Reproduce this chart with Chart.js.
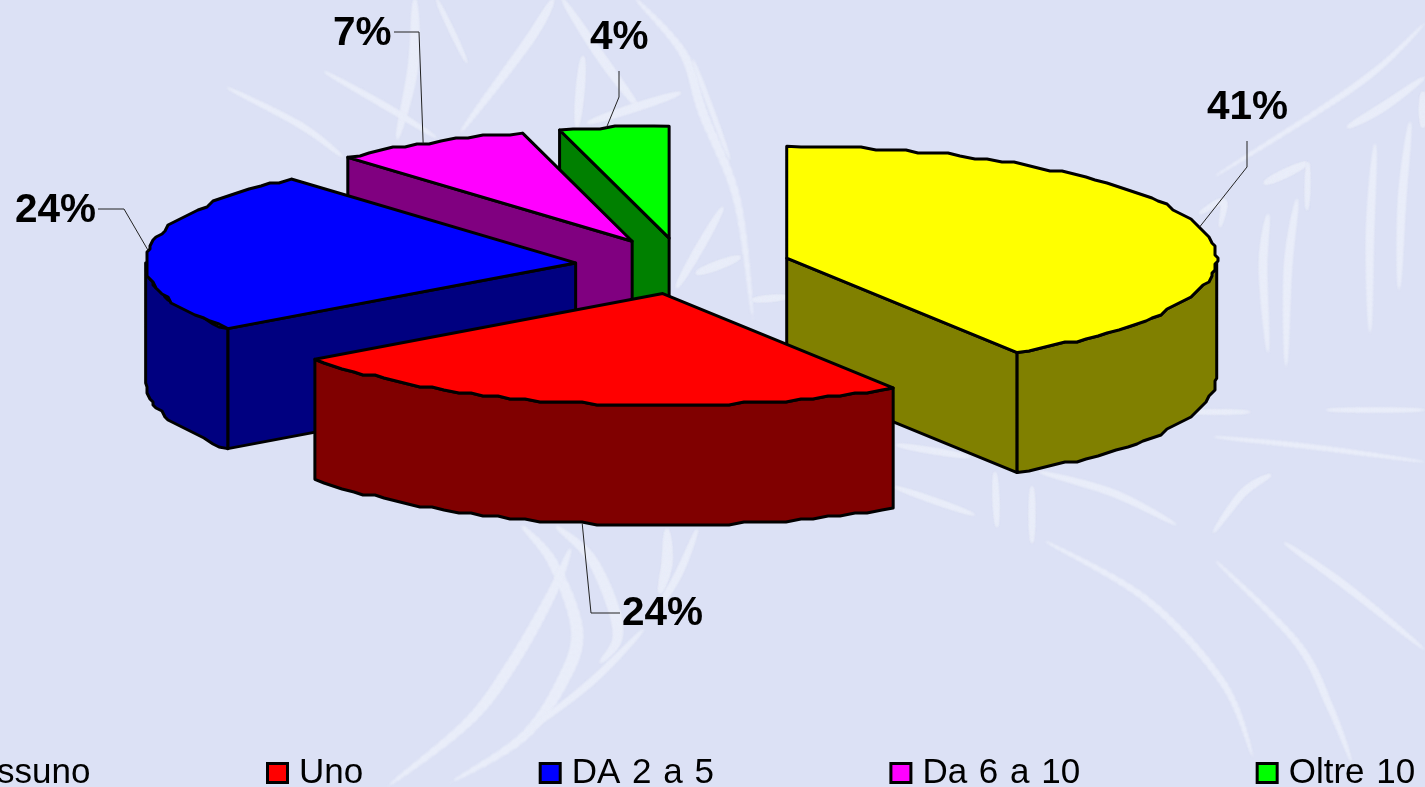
<!DOCTYPE html>
<html lang="it">
<head>
  <meta charset="UTF-8">
  <title>Grafico a torta</title>
  <script src="https://cdn.jsdelivr.net/npm/chart.js"></script>
  <style>
    html, body { margin: 0; padding: 0; overflow: hidden; background: #dce1f5; }
    canvas { display: block; }
  </style>
</head>
<body>
  <canvas id="pieChart" width="1425" height="787"></canvas>

  <script>
    // chart data, labels show these rounded
    const categories = ['Nessuno', 'Uno', 'DA 2 a 5', 'Da 6 a 10', 'Oltre 10'];
    const percentages = [41, 24, 23.5, 7.4, 4.1];
    const topColors = ['#ffff00', '#ff0000', '#0000ff', '#ff00ff', '#00ff00'];
    const wallColors = ['#808000', '#800000', '#000080', '#800080', '#008000'];

    // fake 3d look
    const squash = 0.26;
    const depth = 120;
    const explode = 108;
    const jagGrid = 3;

    // label text spot and leader elbow, same order as categories
    const labelPos = [[1207, 119], [622, 625], [15, 222], [333, 45], [590, 49]];
    const leaderPts = [
      [[1247, 167], [1247, 141]],
      [[591, 613], [620, 613]],
      [[124, 209], [98, 209]],
      [[419, 32], [394, 32]],
      [[619, 97], [619, 71]]
    ];
    const leaderShift = [0, 0, 0, -1, -1];

    // pale feather strokes of the slide background: [width, x, y, x, y, ...]
    const feathers = [
      [9, 415,0, 413,67, 397,140], [4, 437,0, 467,63], [8, 553,0, 527,43, 460,133],
      [8, 563,0, 603,60, 640,110], [7, 583,57, 577,127], [8, 637,0, 683,53, 703,113, 737,200, 753,320],
      [4, 693,60, 730,160], [7, 680,93, 587,123], [5, 325,72, 387,107, 437,138], [5, 228,88, 300,125, 343,157],
      [7, 677,287, 723,207], [7, 697,273, 740,257], [5, 753,300, 787,297],
      [5, 1217,175, 1323,108, 1380,67, 1425,23], [7, 1348,127, 1383,107, 1425,77], [7, 1265,183, 1307,163],
      [4, 1308,163, 1307,210], [7, 1268,215, 1263,267, 1268,353], [7, 1297,200, 1288,267, 1286,367],
      [7, 1375,145, 1370,233, 1370,333], [7, 1410,123, 1402,200, 1399,290], [6, 1423,93, 1423,127],
      [5, 1200,213, 1223,202, 1220,227], [4, 1190,412, 1250,412], [4, 1327,410, 1425,410],
      [4, 1215,437, 1313,447, 1425,462], [5, 897,445, 970,457], [5, 895,487, 975,515],
      [5, 995,473, 997,527], [5, 1032,487, 1032,543], [6, 1040,472, 1113,493, 1177,525],
      [6, 1047,542, 1147,600, 1223,683, 1253,757], [6, 1217,562, 1297,643, 1330,707, 1352,763],
      [6, 1285,543, 1347,587, 1425,650], [6, 1270,475, 1243,493, 1213,533],
      [11, 523,527, 553,563, 577,630, 563,680, 523,737, 450,783], [10, 570,550, 550,597, 510,667, 467,723, 387,787],
      [10, 557,527, 590,557, 613,607, 617,640, 600,663], [6, 643,630, 590,683, 520,737],
      [9, 667,530, 667,563, 660,593], [6, 697,530, 677,577, 650,620]
    ];

    function drawFeather(ctx, f) {
      ctx.strokeStyle = '#e9edf9';
      ctx.lineCap = 'round';
      const pts = [];
      for (let i = 1; i < f.length; i += 2) pts.push([f[i], f[i + 1]]);
      // walk each piece and thin the ends so it looks brushed
      const steps = 40;
      let prev = null;
      for (let s = 0; s <= steps; s++) {
        const t = s / steps * (pts.length - 1);
        const i = Math.min(Math.floor(t), pts.length - 2);
        const u = t - i;
        const p0 = pts[Math.max(i - 1, 0)], p1 = pts[i], p2 = pts[i + 1], p3 = pts[Math.min(i + 2, pts.length - 1)];
        const cr = (a, b, c, d) => 0.5 * (2 * b + (c - a) * u + (2 * a - 5 * b + 4 * c - d) * u * u + (3 * b - a - 3 * c + d) * u * u * u);
        const cur = [cr(p0[0], p1[0], p2[0], p3[0]), cr(p0[1], p1[1], p2[1], p3[1])];
        if (prev) {
          ctx.lineWidth = f[0] * Math.pow(Math.sin(Math.PI * s / steps), 0.6) + 0.6;
          ctx.beginPath();
          ctx.moveTo(prev[0], prev[1]);
          ctx.lineTo(cur[0], cur[1]);
          ctx.stroke();
        }
        prev = cur;
      }
    }

    // where a slice point lands on screen after explode and squash
    function sliceOrigin(arc) {
      const mid = (arc.startAngle + arc.endAngle) / 2;
      return { x: arc.x + explode * Math.cos(mid), y: arc.y + explode * Math.sin(mid) * squash };
    }

    function rimPoint(arc, angle, dz) {
      const o = sliceOrigin(arc);
      return [o.x + arc.outerRadius * Math.cos(angle), o.y + arc.outerRadius * Math.sin(angle) * squash + dz];
    }

    // rim as a rough polyline, the source picture has this wobbly edge
    function rimPath(arc, a0, a1, dz) {
      const pts = [rimPoint(arc, a0, dz)];
      const n = Math.ceil((a1 - a0) / (2 * Math.PI / 180));
      for (let i = 1; i < n; i++) {
        const p = rimPoint(arc, a0 + (a1 - a0) * i / n, 0);
        pts.push([Math.round(p[0] / jagGrid) * jagGrid, Math.round(p[1] / jagGrid) * jagGrid + dz]);
      }
      pts.push(rimPoint(arc, a1, dz));
      return pts;
    }

    function fillPoly(ctx, pts, color) {
      ctx.beginPath();
      pts.forEach((p, i) => i ? ctx.lineTo(p[0], p[1]) : ctx.moveTo(p[0], p[1]));
      ctx.closePath();
      ctx.fillStyle = color;
      ctx.fill();
      ctx.stroke();
    }

    function drawSlice(ctx, arc, index) {
      const o = sliceOrigin(arc);
      const a0 = arc.startAngle, a1 = arc.endAngle;
      const wall = wallColors[index];
      ctx.strokeStyle = '#000';
      ctx.lineWidth = 3;
      ctx.lineJoin = 'round';

      // cut faces, only the ones turned to the viewer
      [[a0, Math.cos(a0) < -0.001], [a1, Math.cos(a1) > 0.001]].forEach(([a, visible]) => {
        if (!visible) return;
        const top = rimPoint(arc, a, 0);
        const bot = rimPoint(arc, a, depth);
        fillPoly(ctx, [[o.x, o.y], top, bot, [o.x, o.y + depth]], wall);
      });

      // front of the rim
      const f0 = Math.max(a0, 0), f1 = Math.min(a1, Math.PI);
      if (f1 > f0) {
        const upper = rimPath(arc, f0, f1, 0);
        const lower = rimPath(arc, f0, f1, depth).reverse();
        fillPoly(ctx, upper.concat(lower), wall);
      }

      // top face
      fillPoly(ctx, [[o.x, o.y]].concat(rimPath(arc, a0, a1, 0)), topColors[index]);
    }

    const pie3d = {
      id: 'pie3d',
      beforeDraw(chart) {
        const ctx = chart.ctx;
        ctx.save();
        ctx.fillStyle = '#dce1f5';
        ctx.fillRect(0, 0, chart.width, chart.height);
        ctx.filter = 'blur(1px)';
        feathers.forEach(f => drawFeather(ctx, f));
        ctx.restore();
      },
      beforeDatasetsDraw(chart) {
        const ctx = chart.ctx;
        const arcs = chart.getDatasetMeta(0).data;
        const order = arcs.map((a, i) => i).sort((p, q) => sliceOrigin(arcs[p]).y - sliceOrigin(arcs[q]).y);
        ctx.save();
        order.forEach(i => drawSlice(ctx, arcs[i], i));
        ctx.restore();
        return false; // the flat pie is replaced by the one above
      },
      afterDraw(chart) {
        const ctx = chart.ctx;
        const arcs = chart.getDatasetMeta(0).data;
        ctx.save();

        // leader lines and percent labels
        arcs.forEach((arc, i) => {
          const mid = (arc.startAngle + arc.endAngle) / 2 + leaderShift[i] * Math.PI / 180;
          const front = Math.sin(mid) > 0.5;
          const start = rimPoint(arc, mid, front ? depth : 0);
          ctx.strokeStyle = '#222';
          ctx.lineWidth = 1;
          ctx.beginPath();
          ctx.moveTo(start[0], start[1]);
          leaderPts[i].forEach(p => ctx.lineTo(p[0], p[1]));
          ctx.stroke();
          ctx.fillStyle = '#000';
          ctx.font = 'bold 40.5px "Liberation Sans"';
          ctx.textAlign = 'left';
          ctx.textBaseline = 'alphabetic';
          ctx.fillText(Math.round(percentages[i]) + '%', labelPos[i][0], labelPos[i][1]);
        });

        // legend, runs off the left edge like the original slide
        ctx.font = '35px "Liberation Sans"';
        ctx.wordSpacing = '2px';
        let x = 267.5;
        x -= 31.5 + ctx.measureText(categories[0]).width + 177;
        categories.forEach((name, i) => {
          ctx.fillStyle = topColors[i];
          ctx.strokeStyle = '#000';
          ctx.lineWidth = 3;
          ctx.fillRect(x, 763.5, 20, 19);
          ctx.strokeRect(x, 763.5, 20, 19);
          ctx.fillStyle = '#000';
          ctx.fillText(name, x + 31.5, 783);
          x += 31.5 + ctx.measureText(name).width + 177;
        });
        ctx.restore();
      }
    };

    const pieChart = new Chart(document.getElementById('pieChart'), {
      type: 'pie',
      data: {
        labels: categories,
        datasets: [{ data: percentages, backgroundColor: topColors, borderColor: '#000', borderWidth: 3 }]
      },
      options: {
        responsive: false,
        animation: false,
        radius: 430,
        layout: { padding: { right: 59, bottom: 255 } },
        plugins: { legend: { display: false }, tooltip: { enabled: false } },
        events: []
      },
      plugins: [pie3d]
    });
  </script>
</body>
</html>
